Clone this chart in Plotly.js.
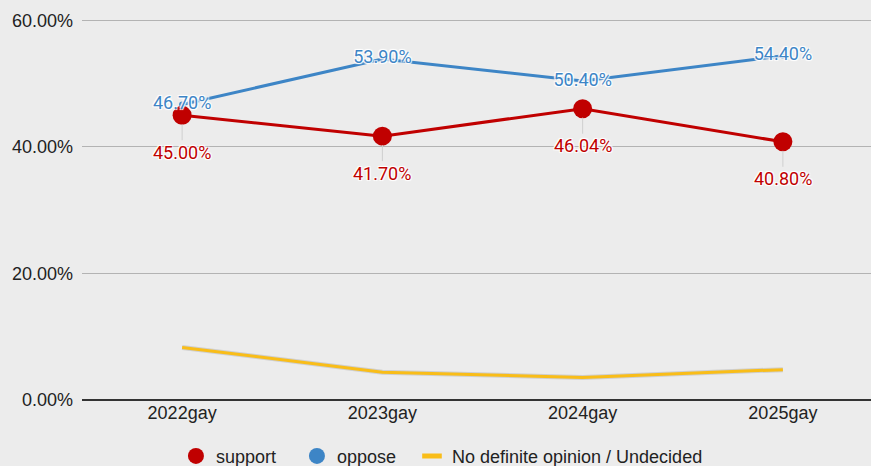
<!DOCTYPE html>
<html><head><meta charset="utf-8">
<script src="https://cdn.plot.ly/plotly-3.0.1.min.js"></script>
<style>html,body{margin:0;padding:0;background:#ececec;}#chart{width:871px;height:466px;}</style>
</head><body><div id="chart"></div>
<script>
const categories = ["2022gay", "2023gay", "2024gay", "2025gay"];
const support = [45.00, 41.70, 46.04, 40.80];
const oppose = [46.70, 53.90, 50.40, 54.40];
const undecided = [8.30, 4.40, 3.56, 4.80];
const yTicks = [0, 20, 40, 60];

const RED = "#c00000", BLUE = "#3d85c6", YELLOW = "#f9bd18";
const SH = "1px 1px 1px #fff, -1px -1px 1px #fff, 1px -1px 1px #fff, -1px 1px 1px #fff";

const traces = [
  {x: categories, y: undecided, mode: "lines", showlegend: false, hoverinfo: "skip",
   line: {color: "rgba(0,0,0,0.12)", width: 5}},
  {x: categories, y: undecided, mode: "lines", name: "No definite opinion / Undecided",
   line: {color: YELLOW, width: 3}, showlegend: false},
  {x: categories, y: support, mode: "lines+markers", name: "support", showlegend: false,
   line: {color: RED, width: 3}, marker: {color: RED, size: 19}},
  {x: categories, y: oppose, mode: "lines+markers+text", name: "oppose", showlegend: false,
   line: {color: BLUE, width: 3}, marker: {color: BLUE, size: 6},
   texttemplate: "%{y:.2f}%", textposition: "middle center",
   textfont: {family: "Roboto", size: 18, color: BLUE, shadow: SH}},
  {x: [null], y: [null], mode: "markers", name: "support", legend: "legend",
   marker: {color: RED, size: 17}},
  {x: [null], y: [null], mode: "markers", name: "oppose", legend: "legend",
   marker: {color: BLUE, size: 17}},
  {x: [null], y: [null], mode: "markers", name: "No definite opinion / Undecided", legend: "legend2",
   marker: {symbol: "line-ew", size: 14, line: {color: YELLOW, width: 5}}}
];

const annotations = categories.map((c, i) => ({
  x: c, y: support[i], xref: "x", yref: "y",
  text: support[i].toFixed(2) + "%", showarrow: true, arrowhead: 0,
  arrowcolor: "#cfcfcf", arrowwidth: 1, ax: 0, ay: 37, standoff: 9,
  font: {family: "Roboto", size: 18, color: RED, shadow: SH}
}));

const legendBase = {orientation: "h", xref: "container", xanchor: "left",
  yref: "container", y: 0.021, yanchor: "middle",
  font: {size: 18}, traceorder: "normal", bgcolor: "rgba(0,0,0,0)"};

const layout = {
  width: 871, height: 466,
  paper_bgcolor: "#ececec", plot_bgcolor: "#ececec",
  margin: {l: 82, r: 0, t: 14, b: 66, autoexpand: false},
  font: {family: "Liberation Sans, Arial, sans-serif", size: 18, color: "#222"},
  xaxis: {type: "category", range: [-0.5, 3.44], showgrid: false, showline: false,
          zeroline: false, ticks: "", tickfont: {size: 18}, automargin: false},
  yaxis: {range: [0, 61], tickvals: yTicks, ticktext: yTicks.map(v => v.toFixed(2) + "%"),
          showgrid: true, gridcolor: "#b3b3b3", gridwidth: 1, zeroline: true,
          zerolinecolor: "#333", zerolinewidth: 1.5, showline: false, ticks: "",
          tickfont: {size: 18}, ticklabelstandoff: 8, automargin: false},
  legend: Object.assign({}, legendBase, {x: 0.202, entrywidth: 76}),
  legend2: Object.assign({}, legendBase, {x: 0.473}),
  annotations: annotations,
  showlegend: true
};
Plotly.newPlot("chart", traces, layout, {displayModeBar: false, staticPlot: true});
</script></body></html>
